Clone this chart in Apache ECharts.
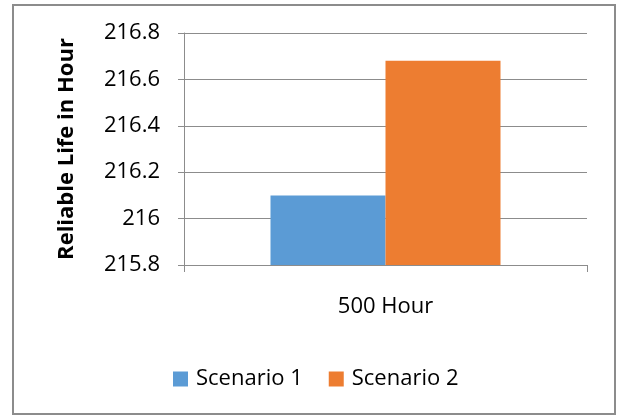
<!DOCTYPE html>
<html>
<head>
<meta charset="utf-8">
<style>
  html, body { margin: 0; padding: 0; background: #ffffff; }
  #chart { width: 618px; height: 416px; }
</style>
<script src="https://cdn.jsdelivr.net/npm/echarts@6/dist/echarts.min.js"></script>
</head>
<body>
<div id="chart"></div>
<script>
// Reliable life per scenario, one category
const categories = ['500 Hour'];
const scenario1 = [216.10];
const scenario2 = [216.68];
const seriesNames = ['Scenario 1', 'Scenario 2'];
const yMin = 215.8;
const yMax = 216.8;
const yStep = 0.2;

const FONT = 'Open Sans';
const chart = echarts.init(document.getElementById('chart'), null, { renderer: 'canvas' });

chart.setOption({
  animation: false,
  backgroundColor: '#ffffff',
  textStyle: { fontFamily: FONT },
  graphic: [{
    type: 'rect',
    shape: { x: 13, y: 5, width: 602, height: 409 },
    style: { fill: 'none', stroke: '#8c8c8c', lineWidth: 2 },
    silent: true
  }],
  grid: { left: 184, right: 31, top: 33, bottom: 151 },
  legend: {
    left: 168,
    top: 363,
    itemWidth: 15,
    itemHeight: 15,
    itemGap: 26,
    icon: 'rect',
    textStyle: { fontFamily: FONT, fontSize: 22, color: '#000000', padding: [0, 0, 0, 3] },
    data: seriesNames
  },
  xAxis: {
    type: 'category',
    data: categories,
    axisLine: { lineStyle: { color: '#8c8c8c', width: 1 } },
    axisTick: { show: true, length: 7, lineStyle: { color: '#8c8c8c' } },
    axisLabel: { fontFamily: FONT, fontSize: 22, color: '#000000', margin: 31 }
  },
  yAxis: {
    type: 'value',
    min: yMin,
    max: yMax,
    interval: yStep,
    name: 'Reliable Life in Hour',
    nameLocation: 'middle',
    nameRotate: 90,
    nameGap: 106,
    nameTextStyle: { fontFamily: FONT, fontSize: 22, fontWeight: 'bold', color: '#000000' },
    axisLine: { show: true, lineStyle: { color: '#8c8c8c', width: 1 } },
    axisTick: { show: true, length: 6, lineStyle: { color: '#8c8c8c' } },
    axisLabel: {
      fontFamily: FONT, fontSize: 22, color: '#000000', margin: 24,
      formatter: v => String(+v.toFixed(1))
    },
    splitLine: { lineStyle: { color: '#8c8c8c', width: 1 } }
  },
  series: [
    {
      name: seriesNames[0],
      type: 'bar',
      data: scenario1,
      barWidth: 115,
      barGap: '0%',
      itemStyle: { color: '#5b9bd5' }
    },
    {
      name: seriesNames[1],
      type: 'bar',
      data: scenario2,
      barWidth: 115,
      barGap: '0%',
      itemStyle: { color: '#ed7d31' }
    }
  ]
});
</script>
</body>
</html>
